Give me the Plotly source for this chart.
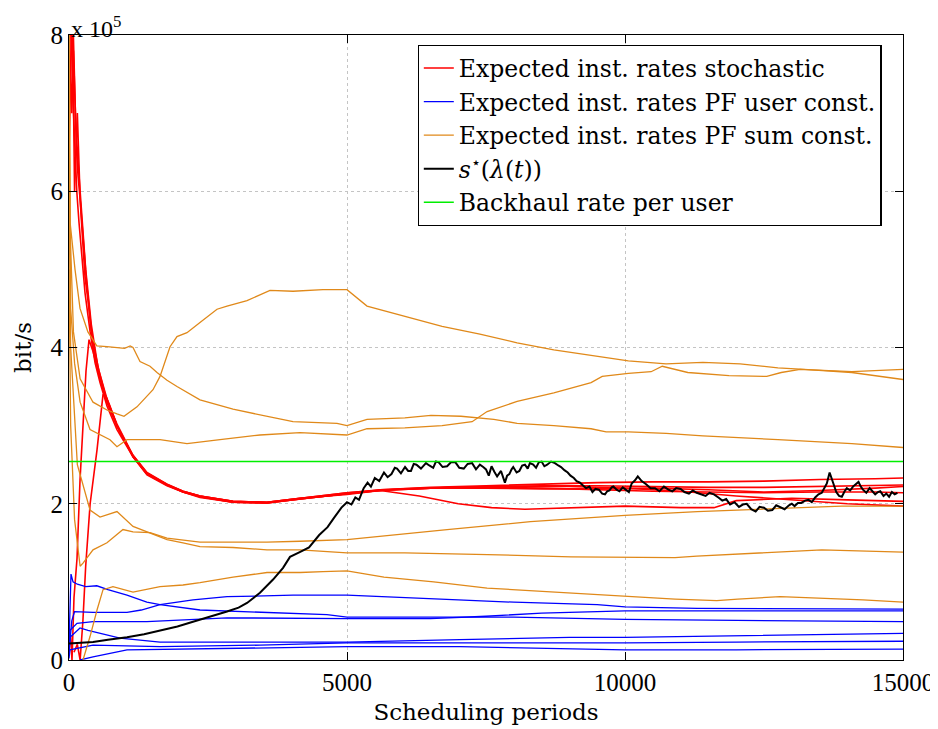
import plotly.graph_objects as go

# ---------------- data (y in units of 1e5 bit/s) ----------------
# Expected inst. rates stochastic (red)
r1_x = [0, 30, 60, 90, 108, 130, 162, 200, 234, 288, 342, 432, 558, 683, 863, 1000, 1151, 1403, 1763, 2050, 2356, 2950, 3561, 4155, 5000, 5600, 6500, 7500, 8500, 9500, 10500, 11500, 12500, 13500, 14500, 15000]
r1_y = [8.6, 8.2, 8.5, 7.6, 7.0, 6.6, 6.2, 5.9, 5.5, 4.9, 4.6, 4.0, 3.6, 3.3, 3.0, 2.8, 2.62, 2.4, 2.25, 2.16, 2.1, 2.03, 2.02, 2.07, 2.14, 2.18, 2.21, 2.23, 2.25, 2.27, 2.28, 2.28, 2.29, 2.31, 2.32, 2.33]
r2_x = [0, 40, 70, 110, 140, 180, 234, 288, 380, 470, 558, 683, 863, 1151, 1403, 1763, 2050, 2356, 2950, 3561, 4155, 5000, 5600, 6500, 7500, 8500, 9500, 10500, 11500, 12500, 13500, 14500, 15000]
r2_y = [7.5, 8.5, 7.2, 6.5, 6.0, 5.6, 5.2, 4.7, 4.2, 3.8, 3.55, 3.25, 2.95, 2.6, 2.38, 2.24, 2.15, 2.09, 2.02, 2.01, 2.06, 2.13, 2.17, 2.2, 2.22, 2.23, 2.23, 2.22, 2.21, 2.21, 2.22, 2.23, 2.24]
r3_x = [0, 50, 80, 120, 160, 220, 300, 400, 520, 650, 863, 1151, 1403, 1763, 2050, 2356, 2950, 3561, 4155, 5000, 5600, 6500, 7500, 8500, 9500, 10500, 11500, 12500, 13500, 14500, 15000]
r3_y = [8.2, 7.0, 7.8, 6.9, 6.4, 5.8, 5.0, 4.3, 3.75, 3.4, 3.0, 2.6, 2.37, 2.23, 2.15, 2.08, 2.02, 2.01, 2.06, 2.13, 2.18, 2.2, 2.2, 2.19, 2.19, 2.2, 2.18, 2.15, 2.17, 2.2, 2.22]
r4_x = [0, 60, 100, 150, 200, 260, 320, 420, 540, 700, 863, 1151, 1403, 1763, 2050, 2356, 2950, 3561, 4155, 5000, 5600, 6500, 7500, 8500, 9500, 10500, 11500, 12500, 13500, 14500, 15000]
r4_y = [6.5, 8.4, 6.0, 7.0, 5.9, 5.3, 4.8, 4.1, 3.7, 3.3, 3.02, 2.62, 2.39, 2.25, 2.16, 2.1, 2.03, 2.02, 2.07, 2.12, 2.17, 2.2, 2.21, 2.2, 2.18, 2.16, 2.15, 2.14, 2.15, 2.15, 2.14]
r5_x = [90, 150, 200, 250, 300, 380, 504, 560, 612, 680, 737, 863, 1151, 1403, 1763, 2050, 2356, 2950, 3561, 4155, 5000, 5600, 6300, 7000, 7600, 8200, 9000, 10000, 11000, 11600, 12000, 13000, 14000, 15000]
r5_y = [0.1, 0.2, 0.0, 0.5, 1.2, 2.0, 2.69, 3.1, 3.4, 3.35, 3.25, 3.0, 2.6, 2.38, 2.24, 2.15, 2.09, 2.02, 2.01, 2.06, 2.13, 2.17, 2.1, 2.0, 1.95, 1.93, 1.95, 1.97, 1.95, 1.95, 2.04, 2.07, 2.05, 2.03]
r6_x = [30, 54, 90, 144, 198, 252, 306, 360, 432, 558, 683, 863, 1151, 1403, 1763, 2050, 2356, 2950, 3561, 4155, 5000, 6000, 7000, 8000, 9000, 10000, 11000, 12000, 13000, 14000, 15000]
r6_y = [0.3, 0.0, 0.8, 1.3, 2.3, 3.1, 3.7, 4.1, 3.95, 3.6, 3.3, 3.0, 2.61, 2.39, 2.24, 2.16, 2.1, 2.03, 2.02, 2.07, 2.14, 2.19, 2.21, 2.22, 2.22, 2.2, 2.16, 2.1, 2.05, 2.0, 1.97]

# Expected inst. rates PF user const. (blue)
b1_x = [0, 36, 72, 150, 300, 500, 700, 1043, 1400, 1637, 2356, 3500, 4640, 5000, 6000, 8000, 10000, 12000, 15000]
b1_y = [0.2, 1.1, 1.0, 0.97, 0.94, 0.95, 0.9, 0.83, 0.74, 0.71, 0.64, 0.61, 0.58, 0.55, 0.55, 0.55, 0.52, 0.51, 0.49]
b2_x = [0, 50, 100, 432, 1043, 1300, 1637, 2230, 2842, 4029, 5000, 5600, 7000, 8000, 9500, 10000, 11300, 15000]
b2_y = [0.1, 0.5, 0.62, 0.61, 0.61, 0.64, 0.71, 0.77, 0.81, 0.83, 0.83, 0.81, 0.77, 0.74, 0.71, 0.68, 0.66, 0.65]
b3_x = [0, 18, 144, 432, 1400, 2842, 5000, 6500, 7500, 8500, 9500, 10000, 12000, 15000]
b3_y = [0.1, 0.38, 0.47, 0.49, 0.49, 0.54, 0.53, 0.53, 0.56, 0.6, 0.62, 0.63, 0.63, 0.63]
b4_x = [0, 18, 198, 342, 917, 1637, 3435, 5000, 7030, 9000, 10000, 12000, 15000]
b4_y = [0.05, 0.29, 0.41, 0.38, 0.28, 0.23, 0.23, 0.23, 0.26, 0.29, 0.29, 0.31, 0.34]
b5_x = [0, 18, 432, 1637, 3435, 5000, 7030, 10000, 12000, 15000]
b5_y = [0.02, 0.13, 0.19, 0.17, 0.19, 0.22, 0.22, 0.22, 0.23, 0.24]
b6_x = [198, 432, 1043, 2842, 5000, 7030, 10000, 12000, 15000]
b6_y = [0.0, 0.04, 0.13, 0.15, 0.17, 0.17, 0.13, 0.13, 0.14]

# Expected inst. rates PF sum const. (orange)
o1_x = [0, 20, 80, 200, 432, 683, 863, 989, 1223, 1511, 1637, 1817, 1942, 2122, 2356, 2662, 2842, 3202, 3615, 4029, 4568, 5000, 5360, 6040, 6710, 7390, 8060, 8720, 9390, 10060, 10740, 11400, 12070, 12750, 13220, 14080, 15000]
o1_y = [8.5, 5.5, 4.2, 3.6, 3.3, 3.2, 3.15, 3.12, 3.24, 3.46, 3.63, 4.01, 4.14, 4.19, 4.32, 4.49, 4.53, 4.6, 4.73, 4.72, 4.74, 4.74, 4.53, 4.4, 4.27, 4.17, 4.06, 3.97, 3.9, 3.83, 3.79, 3.81, 3.79, 3.74, 3.72, 3.68, 3.59]
o2_x = [0, 30, 100, 200, 378, 737, 863, 1043, 1637, 2122, 2716, 3435, 4155, 5000, 5360, 6040, 6710, 7250, 7520, 8060, 8720, 9390, 9590, 10060, 10470, 10670, 11130, 11870, 12550, 12810, 13150, 14080, 15000]
o2_y = [7.0, 4.5, 3.8, 3.3, 2.95, 2.82, 2.73, 2.82, 2.82, 2.77, 2.82, 2.88, 2.91, 2.88, 2.96, 2.97, 3.0, 3.05, 3.18, 3.31, 3.42, 3.55, 3.63, 3.67, 3.69, 3.76, 3.68, 3.64, 3.63, 3.68, 3.72, 3.69, 3.72]
o3_x = [0, 20, 108, 198, 340, 500, 683, 850, 1000, 1100, 1151, 1277, 1457, 1583, 1763, 1942, 2356, 2950, 3435, 4029, 4820, 5000, 5360, 6040, 6510, 7050, 7640, 8060, 8720, 9390, 9660, 10060, 10740, 11400, 12750, 14080, 15000]
o3_y = [8.5, 5.6, 5.0, 4.5, 4.2, 4.02, 4.01, 4.0, 3.99, 4.02, 4.0, 3.82, 3.76, 3.68, 3.58, 3.5, 3.33, 3.21, 3.14, 3.05, 3.03, 3.0, 3.08, 3.1, 3.13, 3.12, 3.08, 3.03, 3.0, 2.96, 2.92, 2.92, 2.9, 2.87, 2.82, 2.77, 2.72]
o4_x = [0, 30, 100, 200, 252, 432, 683, 971, 1151, 1457, 1763, 2050, 2356, 2950, 3561, 4155, 5000, 6800, 8300, 10000, 11300, 12800, 13900, 15000]
o4_y = [5.0, 3.0, 1.8, 1.2, 1.24, 1.41, 1.5, 1.67, 1.64, 1.63, 1.56, 1.54, 1.51, 1.51, 1.51, 1.52, 1.54, 1.67, 1.77, 1.85, 1.9, 1.94, 1.97, 1.97]
o5_x = [0, 30, 150, 378, 558, 863, 1151, 1457, 1763, 2050, 2356, 2950, 3561, 4155, 5000, 6040, 7530, 9030, 10000, 10900, 11290, 12790, 13540, 15000]
o5_y = [6.0, 4.0, 2.5, 1.92, 1.83, 1.9, 1.71, 1.63, 1.54, 1.5, 1.45, 1.44, 1.41, 1.41, 1.37, 1.37, 1.35, 1.32, 1.31, 1.31, 1.33, 1.38, 1.41, 1.38]
o6_x = [252, 378, 504, 612, 791, 1151, 1637, 2050, 2356, 2950, 3561, 4155, 4568, 5000, 5665, 6560, 7520, 9030, 10000, 10900, 11650, 12030, 12790, 14280, 15000]
o6_y = [0.0, 0.3, 0.64, 0.9, 0.94, 0.87, 0.94, 0.96, 0.99, 1.06, 1.12, 1.12, 1.13, 1.14, 1.06, 1.0, 0.92, 0.86, 0.82, 0.78, 0.76, 0.78, 0.81, 0.77, 0.74]

# s*(lambda(t)) (black), read densely to keep its jagged look
k_x = [0, 200, 432, 700, 1043, 1350, 1637, 1950, 2230, 2536, 2842, 3050, 3202, 3435, 3670, 3850, 3975, 4150, 4317, 4500, 4650, 4766, 4900, 5000, 5080, 5150, 5216, 5300, 5370, 5430, 5500, 5580, 5665, 5730, 5800, 5860, 5900, 5970, 6044, 6100, 6150, 6200, 6250, 6330, 6420, 6480, 6550, 6600, 6650, 6720, 6800, 6870, 6950, 7020, 7100, 7170, 7250, 7320, 7390, 7450, 7500, 7550, 7600, 7650, 7700, 7770, 7840, 7880, 7920, 7960, 7990, 8050, 8100, 8150, 8200, 8250, 8290, 8350, 8400, 8450, 8500, 8550, 8600, 8670, 8740, 8800, 8850, 8910, 8970, 9020, 9080, 9130, 9190, 9250, 9300, 9360, 9415, 9470, 9530, 9590, 9640, 9680, 9720, 9760, 9790, 9850, 9900, 9960, 10020, 10070, 10120, 10180, 10230, 10300, 10380, 10460, 10540, 10620, 10700, 10780, 10850, 10920, 11000, 11070, 11150, 11220, 11290, 11370, 11450, 11520, 11600, 11680, 11750, 11820, 11890, 11970, 12050, 12120, 12190, 12270, 12350, 12420, 12500, 12570, 12650, 12720, 12790, 12870, 12950, 13000, 13050, 13110, 13170, 13240, 13300, 13360, 13420, 13480, 13540, 13590, 13630, 13680, 13720, 13760, 13800, 13850, 13900, 13950, 13990, 14050, 14100, 14150, 14200, 14240, 14280, 14340, 14400, 14450, 14500, 14550, 14590, 14650, 14700, 14750, 14800, 14850, 14900, 14950, 15000]
k_y = [0.21, 0.22, 0.23, 0.26, 0.29, 0.33, 0.38, 0.43, 0.49, 0.55, 0.62, 0.67, 0.73, 0.86, 1.03, 1.18, 1.32, 1.38, 1.44, 1.6, 1.7, 1.82, 1.95, 2.02, 1.99, 2.08, 2.05, 2.2, 2.27, 2.22, 2.33, 2.29, 2.4, 2.34, 2.38, 2.46, 2.45, 2.39, 2.47, 2.42, 2.42, 2.51, 2.5, 2.45, 2.52, 2.49, 2.46, 2.54, 2.53, 2.47, 2.48, 2.53, 2.53, 2.46, 2.45, 2.51, 2.52, 2.44, 2.5, 2.47, 2.44, 2.36, 2.48, 2.41, 2.35, 2.42, 2.27, 2.36, 2.38, 2.44, 2.47, 2.4, 2.42, 2.49, 2.5, 2.45, 2.52, 2.5, 2.46, 2.53, 2.54, 2.48, 2.5, 2.54, 2.52, 2.49, 2.47, 2.43, 2.4, 2.36, 2.33, 2.29, 2.27, 2.23, 2.2, 2.22, 2.15, 2.19, 2.18, 2.13, 2.12, 2.16, 2.17, 2.21, 2.22, 2.18, 2.16, 2.21, 2.18, 2.15, 2.26, 2.3, 2.35, 2.29, 2.25, 2.2, 2.2, 2.16, 2.22, 2.18, 2.16, 2.2, 2.19, 2.15, 2.13, 2.17, 2.14, 2.12, 2.1, 2.14, 2.12, 2.08, 2.04, 2.06, 1.99, 2.02, 1.96, 1.99, 2.0, 1.93, 1.9, 1.96, 1.95, 1.91, 1.92, 1.98, 1.96, 1.93, 1.98, 2.0, 1.97, 2.01, 2.01, 2.04, 2.05, 2.02, 2.08, 2.12, 2.14, 2.2, 2.26, 2.4, 2.32, 2.25, 2.15, 2.1, 2.09, 2.16, 2.2, 2.17, 2.22, 2.25, 2.28, 2.22, 2.18, 2.14, 2.2, 2.16, 2.12, 2.15, 2.16, 2.1, 2.13, 2.09, 2.15, 2.12, 2.14]

# Backhaul rate per user (green)
g_x = [0, 15000]
g_y = [2.54, 2.54]

x_ticks = [0, 5000, 10000, 15000]
x_ticktext = ["0", "5000", "10000", "15000"]
y_ticks = [0, 2, 4, 6, 8]

RED, BLUE, ORANGE, BLACK, GREEN = "#FF0000", "#0000FF", "#E0891A", "#000000", "#00EE00"

fig = go.Figure()

def add(xs, ys, color, width, name, show):
    fig.add_trace(go.Scatter(x=xs, y=ys, mode="lines", line=dict(color=color, width=width),
                             name=name, legendgroup=name, showlegend=show))

red_name = "Expected inst. rates stochastic"
blue_name = "Expected inst. rates PF user const."
orange_name = "Expected inst. rates PF sum const."
black_name = "<i>s</i><sup>\u22c6</sup>(<i>\u03bb</i>(<i>t</i>))"
green_name = "Backhaul rate per user"

for i, (xs, ys) in enumerate([(r1_x, r1_y), (r2_x, r2_y), (r3_x, r3_y), (r4_x, r4_y), (r5_x, r5_y), (r6_x, r6_y)]):
    add(xs, ys, RED, 1.6, red_name, i == 0)
for i, (xs, ys) in enumerate([(b1_x, b1_y), (b2_x, b2_y), (b3_x, b3_y), (b4_x, b4_y), (b5_x, b5_y), (b6_x, b6_y)]):
    add(xs, ys, BLUE, 1.3, blue_name, i == 0)
for i, (xs, ys) in enumerate([(o1_x, o1_y), (o2_x, o2_y), (o3_x, o3_y), (o4_x, o4_y), (o5_x, o5_y), (o6_x, o6_y)]):
    add(xs, ys, ORANGE, 1.3, orange_name, i == 0)
add(k_x, k_y, BLACK, 2.0, black_name, True)
add(g_x, g_y, GREEN, 1.6, green_name, True)

TICKFONT = "'Liberation Serif', 'DejaVu Serif', serif"
TEXTFONT = "'DejaVu Serif', 'Liberation Serif', serif"
axis_common = dict(showline=True, linecolor="black", linewidth=1.2, mirror="ticks",
                   ticks="inside", ticklen=8, tickcolor="black", showgrid=True,
                   gridcolor="#C4C4C4", griddash="dot", gridwidth=1, zeroline=False,
                   tickfont=dict(family=TICKFONT, size=25, color="black"))

fig.update_xaxes(range=[0, 15000], tickvals=x_ticks, ticktext=x_ticktext,
                 title=dict(text="Scheduling periods", font=dict(family=TEXTFONT, size=23, color="black"), standoff=8),
                 **axis_common)
fig.update_yaxes(range=[0, 8], tickvals=y_ticks, ticktext=[str(v) for v in y_ticks],
                 title=dict(text="bit/s", font=dict(family=TEXTFONT, size=23, color="black"), standoff=12),
                 **axis_common)

fig.add_annotation(xref="paper", yref="paper", x=0, y=1, xanchor="left", yanchor="bottom", yshift=-9,
                   text="x 10<sup>5</sup>", showarrow=False, font=dict(family=TICKFONT, size=24, color="black"))

# page body has an 8px margin: shift margins so the plot area lands at 69..903 x 35..660
fig.update_layout(width=938, height=729, margin=dict(l=61, r=43, t=27, b=77),
                  paper_bgcolor="white", plot_bgcolor="white",
                  font=dict(family=TEXTFONT, size=23, color="black"),
                  legend=dict(x=0.418, y=0.984, xanchor="left", yanchor="top", bgcolor="white",
                              bordercolor="black", borderwidth=1.2, tracegroupgap=0,
                              font=dict(family=TEXTFONT, size=23.5, color="black"), itemwidth=30))

fig.write_html("out.html")
